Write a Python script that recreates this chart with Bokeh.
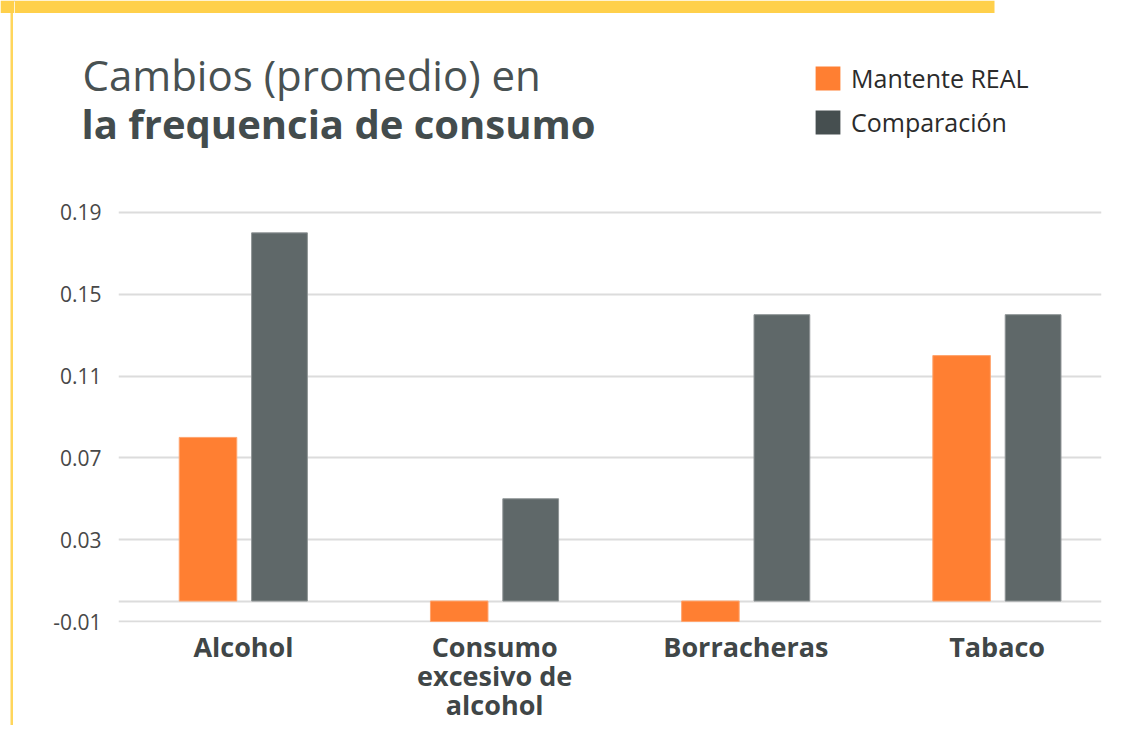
from bokeh.plotting import figure
from bokeh.layouts import column, row
from bokeh.models import (Range1d, FixedTicker, ColumnDataSource, Label,
                          BoxAnnotation, Legend, LegendItem)
from bokeh.transform import dodge
from bokeh.embed import file_html
from bokeh.resources import INLINE

# ---------------- data ----------------
categories = ["Alcohol", "Consumo\nexcesivo de\nalcohol", "Borracheras", "Tabaco"]
mantente_real = [0.08, -0.01, -0.01, 0.12]
comparacion = [0.18, 0.05, 0.14, 0.14]
series_names = ["Mantente REAL", "Comparación"]
y_ticks = [-0.01, 0.03, 0.07, 0.11, 0.15, 0.19]
y_tick_labels = ["-0.01", "0.03", "0.07", "0.11", "0.15", "0.19"]
title_lines = ["Cambios (promedio) en", "la frequencia de consumo"]

# ---------------- colours ----------------
ORANGE = "#FF7F32"
GRAY_BAR = "#5F6869"
GRAY_KEY = "#464F50"
YELLOW = "#FFD04B"
YELLOW_LINE = "#FFD65C"

# ---------------- layout ----------------
W, H = 1122, 725
HEAD_H = 170          # height of the header (title + legend)
STRIP_W = 14          # left strip holding the yellow rule
FRAME_L, FRAME_R, FRAME_B = 118, 1101, 623   # plot frame, page px

CAT0_PX, CAT_STEP_PX = 243.0, 251.2
Y_REF_PX, Y_REF_VAL, PX_PER_UNIT = 212.0, 0.19, 2050.0


def dx(px):
    return (px - CAT0_PX) / CAT_STEP_PX


def dy(py):
    return Y_REF_VAL + (Y_REF_PX - py) / PX_PER_UNIT


def bare(fig):
    fig.outline_line_color = None
    fig.background_fill_color = "white"
    fig.border_fill_color = "white"
    if "frame_align" in fig.properties():
        fig.frame_align = False
    return fig


# ================= left strip (page pixel coordinates, y downwards) =========
strip = bare(figure(width=STRIP_W, height=H, output_backend="svg",
                    toolbar_location=None, x_range=Range1d(0, STRIP_W),
                    y_range=Range1d(H, 0), x_axis_type=None, y_axis_type=None,
                    min_border=0, min_border_left=0, min_border_right=0,
                    min_border_top=0, min_border_bottom=0))
strip.add_layout(BoxAnnotation(left=0, right=STRIP_W, top=0, bottom=12.5,
                               fill_color=YELLOW, fill_alpha=1, line_color=None))
strip.add_layout(BoxAnnotation(left=10, right=12.5, top=12.5, bottom=H,
                               fill_color=YELLOW_LINE, fill_alpha=1, line_color=None))

# ================= header (page pixel coordinates, y downwards) =============
head = bare(figure(width=W - STRIP_W, height=HEAD_H, output_backend="svg",
                   toolbar_location=None,
                   x_range=Range1d(STRIP_W, W), y_range=Range1d(HEAD_H, 0),
                   x_axis_type=None, y_axis_type=None,
                   min_border=0, min_border_left=0, min_border_right=0,
                   min_border_top=0, min_border_bottom=0))
head.add_layout(BoxAnnotation(left=STRIP_W, right=994, top=0, bottom=12.5,
                              fill_color=YELLOW, fill_alpha=1, line_color=None))

head.add_layout(Label(x=82, y=74, text=title_lines[0],
                      text_font="Open Sans", text_font_size="42px",
                      text_color="#485152", text_baseline="alphabetic"))
head.add_layout(Label(x=81, y=123, text=title_lines[1],
                      text_font="Open Sans", text_font_style="bold",
                      text_font_size="40px", text_color="#434C4D",
                      text_baseline="alphabetic"))

# legend swatches: one-point renderers kept outside the visible header range
k1 = head.vbar(x=[-500], top=[1], width=1, fill_color=ORANGE, line_color=None)
k2 = head.vbar(x=[-500], top=[1], width=1, fill_color=GRAY_KEY, line_color=None)
legend = Legend(items=[LegendItem(label=series_names[0], renderers=[k1]),
                       LegendItem(label=series_names[1], renderers=[k2])],
                location=(812 - STRIP_W, 31),
                glyph_width=31, glyph_height=30, label_height=24,
                label_standoff=8, spacing=10, padding=0, margin=0,
                border_line_color=None, background_fill_alpha=0,
                label_text_font="Open Sans", label_text_font_size="25px",
                label_text_color="#2B2B2B")
head.add_layout(legend)

# ================= main chart =================
p = bare(figure(width=W - STRIP_W, height=H - HEAD_H, output_backend="svg",
                toolbar_location=None,
                x_range=Range1d(dx(FRAME_L), dx(FRAME_R)),
                y_range=Range1d(dy(FRAME_B), dy(HEAD_H)),
                min_border_left=FRAME_L - STRIP_W,
                min_border_right=W - FRAME_R,
                min_border_top=0, min_border_bottom=H - FRAME_B))

src = ColumnDataSource(dict(x=list(range(len(categories))),
                            m=mantente_real, c=comparacion))
p.vbar(x=dodge("x", -0.1413), top="m", bottom=0, width=0.229, source=src,
       fill_color=ORANGE, line_color="#FFA46E", line_width=1)
p.vbar(x=dodge("x", 0.1433), top="c", bottom=0, width=0.222, source=src,
       fill_color=GRAY_BAR, line_color="#8E9495", line_width=1)

p.yaxis.ticker = FixedTicker(ticks=y_ticks)
p.yaxis.major_label_overrides = dict(zip(y_ticks, y_tick_labels))
p.yaxis.axis_line_color = None
p.yaxis.major_tick_line_color = None
p.yaxis.minor_tick_line_color = None
p.yaxis.major_tick_out = 0
p.yaxis.major_tick_in = 0
p.yaxis.axis_label_standoff = 0
p.yaxis.major_label_standoff = 17
p.yaxis.major_label_text_font = "Open Sans"
p.yaxis.major_label_text_font_size = "21px"
p.yaxis.major_label_text_color = "#484848"

p.xaxis.ticker = FixedTicker(ticks=list(range(len(categories))))
p.xaxis.major_label_overrides = {i: c for i, c in enumerate(categories)}
p.xaxis.axis_line_color = None
p.xaxis.major_tick_line_color = None
p.xaxis.minor_tick_line_color = None
p.xaxis.major_tick_out = 0
p.xaxis.major_tick_in = 0
p.xaxis.axis_label_standoff = 0
p.xaxis.major_label_standoff = 5
p.xaxis.major_label_text_font = "Open Sans"
p.xaxis.major_label_text_font_style = "bold"
p.xaxis.major_label_text_font_size = "27px"
p.xaxis.major_label_text_line_height = 0.79
p.xaxis.major_label_text_color = "#404647"

p.xgrid.grid_line_color = None
p.ygrid.ticker = FixedTicker(ticks=y_ticks + [0])
p.ygrid.grid_line_color = "#DCDCDC"
p.ygrid.grid_line_width = 2

layout = row(strip, column(head, p, spacing=0), spacing=0)

open("out.html", "w").write(file_html(layout, INLINE))
